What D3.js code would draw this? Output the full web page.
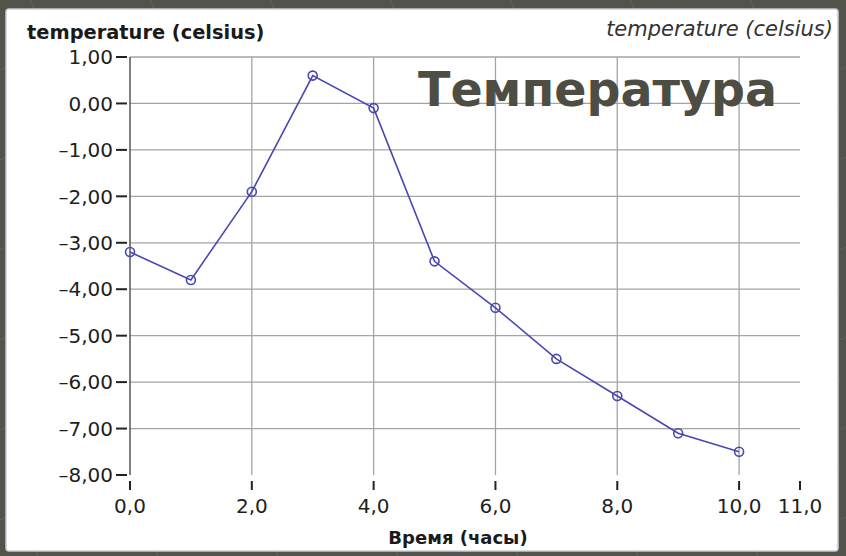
<!DOCTYPE html>
<html>
<head>
<meta charset="utf-8">
<script src="https://cdn.jsdelivr.net/npm/d3@7"></script>
<style>
  body { margin: 0; background: #52534a; }
  svg { display: block; }
  text { font-family: "DejaVu Sans", Verdana, sans-serif; }
</style>
</head>
<body>
<script>
// data
var hours = [0, 1, 2, 3, 4, 5, 6, 7, 8, 9, 10];
var temps = [-3.2, -3.8, -1.9, 0.6, -0.1, -3.4, -4.4, -5.5, -6.3, -7.1, -7.5];
var xTicks = [0, 2, 4, 6, 8, 10, 11];
var yTicks = [1, 0, -1, -2, -3, -4, -5, -6, -7, -8];
var yTitle = "temperature (celsius)";
var xTitle = "Время (часы)";
var bigTitle = "Температура";

//Define size
var W = 846, H = 556;
var margin = {left: 130, right: 46, top: 57, bottom: 81};

var svg = d3.select("body").append("svg")
    .attr("width", W)
    .attr("height", H);

// background pattern (faint diagonal strokes)
var defs = svg.append("defs");
var pat = defs.append("pattern")
    .attr("id", "bgpat")
    .attr("width", 120).attr("height", 90)
    .attr("patternUnits", "userSpaceOnUse");
pat.append("rect").attr("width", 120).attr("height", 90).attr("fill", "#52534a");
pat.append("path")
    .attr("d", "M0,70 L60,40 L120,20 M30,0 L50,40 L70,90")
    .attr("stroke", "#63645a").attr("stroke-width", 1).attr("fill", "none");
svg.append("rect").attr("width", W).attr("height", H).attr("fill", "url(#bgpat)");

//Panel
svg.append("rect")
    .attr("x", 6).attr("y", 9)
    .attr("width", 832).attr("height", 542)
    .attr("rx", 3)
    .attr("fill", "#ffffff")
    .attr("stroke", "#c9ccd6")
    .attr("stroke-width", 1.5);

//Scales
var x = d3.scaleLinear()
    .domain([0, 11])
    .range([margin.left, W - margin.right]);
var y = d3.scaleLinear()
    .domain([-8, 1])
    .range([H - margin.bottom, margin.top]);

var fmtY = function(d) { return d3.format(".2f")(d).replace(".", ",").replace("−", "–"); };
var fmtX = function(d) { return d3.format(".1f")(d).replace(".", ","); };

var g = svg.append("g");

//Horizontal grid
g.selectAll(".hgrid")
    .data(yTicks.filter(function(d) { return d > -8; }))
    .enter().append("line")
    .attr("class", "hgrid")
    .attr("x1", x(0)).attr("x2", x(11))
    .attr("y1", function(d) { return y(d); })
    .attr("y2", function(d) { return y(d); })
    .attr("stroke", "#a4a4a4")
    .attr("stroke-width", 1.3);

//Vertical grid
g.selectAll(".vgrid")
    .data(xTicks.filter(function(d) { return d > 0 && d < 11; }))
    .enter().append("line")
    .attr("class", "vgrid")
    .attr("x1", function(d) { return x(d); })
    .attr("x2", function(d) { return x(d); })
    .attr("y1", y(1)).attr("y2", y(-8))
    .attr("stroke", "#a4a4a4")
    .attr("stroke-width", 1.3);

//Left axis line
g.append("line")
    .attr("x1", x(0)).attr("x2", x(0))
    .attr("y1", y(1)).attr("y2", y(-8))
    .attr("stroke", "#555")
    .attr("stroke-width", 1.5);

//Y axis ticks + labels
var yAxis = g.selectAll(".ytick")
    .data(yTicks)
    .enter().append("g")
    .attr("class", "ytick")
    .attr("transform", function(d) { return "translate(0," + y(d) + ")"; });
yAxis.append("line")
    .attr("x1", 116).attr("x2", 127)
    .attr("stroke", "#222").attr("stroke-width", 2);
yAxis.append("text")
    .attr("x", 113)
    .attr("dy", "0.36em")
    .attr("text-anchor", "end")
    .attr("font-size", 20)
    .attr("fill", "#1e1e1e")
    .text(fmtY);

//X axis ticks + labels (detached below plot)
var xAxis = g.selectAll(".xtick")
    .data(xTicks)
    .enter().append("g")
    .attr("class", "xtick")
    .attr("transform", function(d) { return "translate(" + x(d) + ",0)"; });
xAxis.append("line")
    .attr("y1", 481).attr("y2", 490)
    .attr("stroke", "#222").attr("stroke-width", 2);
xAxis.append("text")
    .attr("y", 513)
    .attr("text-anchor", "middle")
    .attr("font-size", 20)
    .attr("fill", "#1e1e1e")
    .text(fmtX);

//Titles
svg.append("text")
    .attr("x", 27).attr("y", 39)
    .attr("font-size", 19.4).attr("font-weight", "bold")
    .attr("fill", "#1a1a1a")
    .text(yTitle);

svg.append("text")
    .attr("x", 833).attr("y", 36)
    .attr("text-anchor", "end")
    .attr("font-size", 21).attr("font-style", "italic")
    .attr("fill", "#333")
    .text(yTitle);

svg.append("text")
    .attr("x", 458).attr("y", 544)
    .attr("text-anchor", "middle")
    .attr("font-size", 18).attr("font-weight", "bold")
    .attr("fill", "#1a1a1a")
    .text(xTitle);

svg.append("text")
    .attr("x", 418).attr("y", 106)
    .attr("font-size", 47.5).attr("font-weight", "bold")
    .attr("fill", "#4d4d43")
    .text(bigTitle);

//Line + markers
var data = hours.map(function(h, i) { return {h: h, t: temps[i]}; });
var line = d3.line()
    .x(function(d) { return x(d.h); })
    .y(function(d) { return y(d.t); });

g.append("path")
    .datum(data)
    .attr("d", line)
    .attr("fill", "none")
    .attr("stroke", "#4848b0")
    .attr("stroke-width", 1.6);

g.selectAll(".pt")
    .data(data)
    .enter().append("circle")
    .attr("class", "pt")
    .attr("cx", function(d) { return x(d.h); })
    .attr("cy", function(d) { return y(d.t); })
    .attr("r", 4.5)
    .attr("fill", "none")
    .attr("stroke", "#4848b0")
    .attr("stroke-width", 1.6);
</script>
</body>
</html>
